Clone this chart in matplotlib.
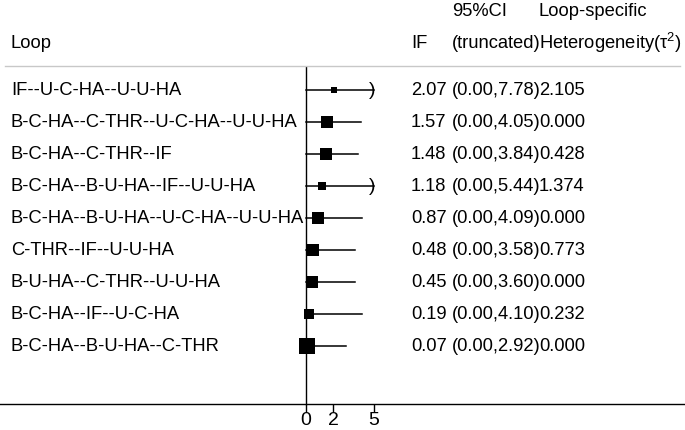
"""Loop-specific inconsistency forest plot."""

import matplotlib
matplotlib.use("Agg")
import matplotlib.pyplot as plt
from matplotlib import transforms
from matplotlib.lines import Line2D

plt.rcParams["font.family"] = ["Liberation Sans", "DejaVu Sans"]
plt.rcParams["mathtext.fontset"] = "custom"
plt.rcParams["mathtext.rm"] = "Liberation Sans"
plt.rcParams["mathtext.it"] = "Liberation Sans"

loops = [
    "IF--U-C-HA--U-U-HA",
    "B-C-HA--C-THR--U-C-HA--U-U-HA",
    "B-C-HA--C-THR--IF",
    "B-C-HA--B-U-HA--IF--U-U-HA",
    "B-C-HA--B-U-HA--U-C-HA--U-U-HA",
    "C-THR--IF--U-U-HA",
    "B-U-HA--C-THR--U-U-HA",
    "B-C-HA--IF--U-C-HA",
    "B-C-HA--B-U-HA--C-THR",
]
inc_factor = [2.07, 1.57, 1.48, 1.18, 0.87, 0.48, 0.45, 0.19, 0.07]
ci_low = [0.00, 0.00, 0.00, 0.00, 0.00, 0.00, 0.00, 0.00, 0.00]
ci_high = [7.78, 4.05, 3.84, 5.44, 4.09, 3.58, 3.60, 4.10, 2.92]
tau2 = [2.105, 0.000, 0.428, 1.374, 0.000, 0.773, 0.000, 0.232, 0.000]
# relative study weight -> box size
weights = [5.0, 8.0, 8.6, 6.2, 8.2, 9.0, 9.0, 7.6, 11.0]
x_ticks = [0, 2, 5]
x_max = 5

W, H = 685, 430
fig = plt.figure(figsize=(W / 100, H / 100), dpi=100)
# plot region: x=0 at px 306, x=5 at px 374; y from px 67 to 404
ax = fig.add_axes([306 / W, 1 - 404 / H, 68 / W, 337 / H])
ax.set_xlim(0, x_max)
ax.set_ylim(10.81, 0.28)

rows = list(range(1, len(loops) + 1))
for y, est, lo, hi, w in zip(rows, inc_factor, ci_low, ci_high, weights):
    ax.plot([lo, min(hi, x_max)], [y, y], color="black", lw=1.1, clip_on=False)
    if hi > x_max:
        ax.text(x_max - 0.12, y, ")", fontsize=14, ha="center", va="center",
                color="black", fontweight="light")
    ax.plot(est, y, marker="s", color="black", ms=w, mew=0, clip_on=False)

for side in ["top", "right", "bottom"]:
    ax.spines[side].set_visible(False)
ax.spines["left"].set_linewidth(1.0)
ax.set_yticks([])
ax.set_xticks(x_ticks)
ax.set_xticklabels([str(t) for t in x_ticks], fontsize=14)
ax.tick_params(axis="x", length=6, width=1.0, pad=0)

# full-width bottom axis line
fig.add_artist(Line2D([0, 1], [1 - 404 / H] * 2, color="black", lw=1.0))
# header separator
fig.add_artist(Line2D([5 / W, 680 / W], [1 - 66 / H] * 2, color="#c8c8c8", lw=1.0))

tr = transforms.blended_transform_factory(fig.transFigure, ax.transData)
fs = 13.2
col_if, col_ci, col_tau = 411 / W, 452 / W, 539 / W
for y, name, est, lo, hi, t in zip(rows, loops, inc_factor, ci_low, ci_high, tau2):
    ax.text(11 / W, y, name, transform=tr, fontsize=fs, va="center", clip_on=False)
    ax.text(col_if, y, f"{est:.2f}", transform=tr, fontsize=fs, va="center")
    ax.text(col_ci, y, f"({lo:.2f},{hi:.2f})", transform=tr, fontsize=fs, va="center")
    ax.text(col_tau, y, f"{t:.3f}", transform=tr, fontsize=fs, va="center")

hy = 1 - 43 / H
ty = 1 - 11 / H
fig.text(11 / W, hy, "Loop", fontsize=fs, va="center")
fig.text(col_if, hy, "IF", fontsize=fs, va="center")
fig.text(col_ci, ty, "95%CI", fontsize=fs, va="center")
fig.text(col_ci, hy, "(truncated)", fontsize=fs, va="center")
fig.text(col_tau, ty, "Loop-specific", fontsize=fs, va="center")
fig.text(col_tau, hy, r"Heterogeneity(τ$^{2}$)", fontsize=fs, va="center")

fig.savefig("out.png", dpi=100)
